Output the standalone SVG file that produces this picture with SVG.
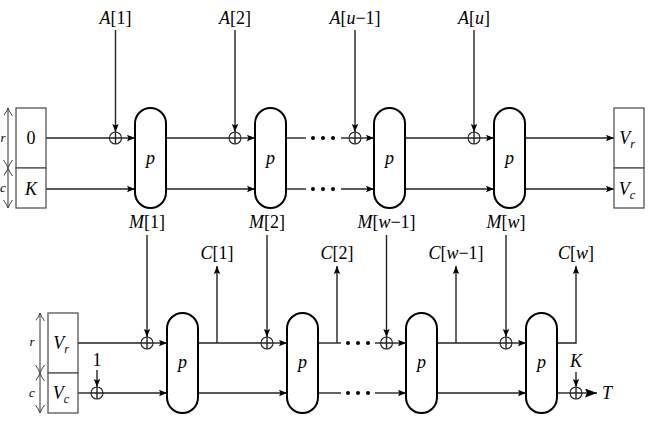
<svg xmlns="http://www.w3.org/2000/svg" width="648" height="434" viewBox="0 0 648 434">
<style>
.bg{fill:#fff}
.box{fill:#fff;stroke:#555;stroke-width:1.3}
.cap{fill:#fff;stroke:#000;stroke-width:2}
.ln{fill:none;stroke:#222;stroke-width:1.4}
.dim{fill:none;stroke:#555;stroke-width:1.2}
.x{fill:#fff;stroke:#222;stroke-width:1.1}
.t{font-family:"Liberation Serif","DejaVu Serif",serif;font-size:18px;fill:#000;text-anchor:middle}
.i{font-style:italic}
.s{font-size:12px;font-style:italic}
.sm{font-family:"Liberation Serif","DejaVu Serif",serif;font-size:13px;font-style:italic;fill:#000;text-anchor:middle}
.dot{fill:#000}
</style>
<defs>
<marker id="a" markerUnits="userSpaceOnUse" markerWidth="10" markerHeight="8" refX="8" refY="3.2" orient="auto">
<path d="M0,0 L8,3.2 L0,6.4 L1.5,3.2 z" fill="#000"/>
</marker>
<marker id="b" markerUnits="userSpaceOnUse" markerWidth="14" markerHeight="10" refX="12" refY="4.5" orient="auto">
<path d="M0,0 L12,4.5 L0,9 L2,4.5 z" fill="#000"/>
</marker>
<marker id="o" markerUnits="userSpaceOnUse" markerWidth="10" markerHeight="10" refX="8" refY="4.5" orient="auto-start-reverse">
<path d="M0,0 Q4,3 8,4.5 Q4,6 0,9" fill="none" stroke="#444" stroke-width="1"/>
</marker>
<g id="xor"><circle class="x" r="6"/><path class="ln" d="M-6,0H6M0,-6V6" stroke-width="1.1"/></g>
</defs>
<rect class="bg" width="648" height="434"/>

<!-- connectors -->
<g id="connectors">
<path class="ln" d="M46,138H109.5"/>
<path class="ln" d="M121.5,138H135" marker-end="url(#a)"/>
<path class="ln" d="M166,138H229"/>
<path class="ln" d="M241,138H255" marker-end="url(#a)"/>
<path class="ln" d="M286,138H306"/>
<path class="ln" d="M341,138H349"/>
<path class="ln" d="M361,138H374" marker-end="url(#a)"/>
<path class="ln" d="M405,138H468"/>
<path class="ln" d="M480,138H494" marker-end="url(#a)"/>
<path class="ln" d="M525,138H614" marker-end="url(#a)"/>
<path class="ln" d="M46,189H135" marker-end="url(#a)"/>
<path class="ln" d="M166,189H255" marker-end="url(#a)"/>
<path class="ln" d="M286,189H306"/>
<path class="ln" d="M341,189H374" marker-end="url(#a)"/>
<path class="ln" d="M405,189H494" marker-end="url(#a)"/>
<path class="ln" d="M525,189H614" marker-end="url(#a)"/>
<path class="ln" d="M115.5,30V132" marker-end="url(#a)"/>
<path class="ln" d="M235,30V132" marker-end="url(#a)"/>
<path class="ln" d="M355,30V132" marker-end="url(#a)"/>
<path class="ln" d="M474,30V132" marker-end="url(#a)"/>
<path class="ln" d="M147,235V337" marker-end="url(#a)"/>
<path class="ln" d="M267,235V337" marker-end="url(#a)"/>
<path class="ln" d="M386.5,235V337" marker-end="url(#a)"/>
<path class="ln" d="M506,235V337" marker-end="url(#a)"/>
<path class="ln" d="M78,343H141"/>
<path class="ln" d="M153,343H167" marker-end="url(#a)"/>
<path class="ln" d="M198,343H261"/>
<path class="ln" d="M273,343H287" marker-end="url(#a)"/>
<path class="ln" d="M318,343H341"/>
<path class="ln" d="M375,343H380.5"/>
<path class="ln" d="M392.5,343H406" marker-end="url(#a)"/>
<path class="ln" d="M437,343H500"/>
<path class="ln" d="M512,343H526" marker-end="url(#a)"/>
<path class="ln" d="M557,343H576V266" marker-end="url(#a)"/>
<path class="ln" d="M217,343V266" marker-end="url(#a)"/>
<path class="ln" d="M337,343V266" marker-end="url(#a)"/>
<path class="ln" d="M456,343V266" marker-end="url(#a)"/>
<path class="ln" d="M78,393H91"/>
<path class="ln" d="M103,393H167" marker-end="url(#a)"/>
<path class="ln" d="M198,393H287" marker-end="url(#a)"/>
<path class="ln" d="M318,393H341"/>
<path class="ln" d="M375,393H406" marker-end="url(#a)"/>
<path class="ln" d="M437,393H526" marker-end="url(#a)"/>
<path class="ln" d="M557,393H570"/>
<path class="ln" d="M582,393H597" marker-end="url(#b)"/>
<path class="ln" d="M97,370V387" marker-end="url(#a)"/>
<path class="ln" d="M576,372V387" marker-end="url(#a)"/>
</g>

<g id="dots">
<circle class="dot" cx="313" cy="138" r="2"/><circle class="dot" cx="323" cy="138" r="2"/><circle class="dot" cx="333" cy="138" r="2"/>
<circle class="dot" cx="313" cy="189" r="2"/><circle class="dot" cx="323" cy="189" r="2"/><circle class="dot" cx="333" cy="189" r="2"/>
<circle class="dot" cx="348" cy="343" r="2"/><circle class="dot" cx="358" cy="343" r="2"/><circle class="dot" cx="368" cy="343" r="2"/>
<circle class="dot" cx="348" cy="393" r="2"/><circle class="dot" cx="358" cy="393" r="2"/><circle class="dot" cx="368" cy="393" r="2"/>
</g>

<g id="xors">
<use href="#xor" x="115.5" y="138"/>
<use href="#xor" x="235" y="138"/>
<use href="#xor" x="355" y="138"/>
<use href="#xor" x="474" y="138"/>
<use href="#xor" x="147" y="343"/>
<use href="#xor" x="267" y="343"/>
<use href="#xor" x="386.5" y="343"/>
<use href="#xor" x="506" y="343"/>
<use href="#xor" x="97" y="393"/>
<use href="#xor" x="576" y="393"/>
</g>

<g id="init-top">
<rect class="box" x="16" y="108" width="30" height="60"/>
<rect class="box" x="16" y="168" width="30" height="40"/>
<text class="t" x="31" y="144">0</text>
<text class="t i" x="31" y="195">K</text>
<path class="dim" d="M8,108V168" marker-start="url(#o)" marker-end="url(#o)"/>
<path class="dim" d="M8,168V208" marker-start="url(#o)" marker-end="url(#o)"/>
<text class="sm" x="3" y="142">r</text>
<text class="sm" x="3" y="192">c</text>
</g>

<g id="final-top">
<rect class="box" x="614" y="108" width="30" height="60"/>
<rect class="box" x="614" y="168" width="30" height="40"/>
<text class="t i" x="627" y="144">V<tspan class="s" dy="4">r</tspan></text>
<text class="t i" x="627" y="195">V<tspan class="s" dy="4">c</tspan></text>
</g>

<g id="init-bottom">
<rect class="box" x="48" y="313" width="30" height="60"/>
<rect class="box" x="48" y="373" width="30" height="40"/>
<text class="t i" x="61" y="349">V<tspan class="s" dy="4">r</tspan></text>
<text class="t i" x="61" y="399">V<tspan class="s" dy="4">c</tspan></text>
<path class="dim" d="M40,313V373" marker-start="url(#o)" marker-end="url(#o)"/>
<path class="dim" d="M40,373V413" marker-start="url(#o)" marker-end="url(#o)"/>
<text class="sm" x="32" y="346">r</text>
<text class="sm" x="32" y="397">c</text>
</g>

<g id="p1"><rect class="cap" x="135" y="108" width="31" height="100" rx="15.5"/><text class="t i" x="150.5" y="164">p</text></g>
<g id="p2"><rect class="cap" x="255" y="108" width="31" height="100" rx="15.5"/><text class="t i" x="270.5" y="164">p</text></g>
<g id="p3"><rect class="cap" x="374" y="108" width="31" height="100" rx="15.5"/><text class="t i" x="389.5" y="164">p</text></g>
<g id="p4"><rect class="cap" x="494" y="108" width="31" height="100" rx="15.5"/><text class="t i" x="509.5" y="164">p</text></g>
<g id="p5"><rect class="cap" x="167" y="313" width="31" height="100" rx="15.5"/><text class="t i" x="182.5" y="368">p</text></g>
<g id="p6"><rect class="cap" x="287" y="313" width="31" height="100" rx="15.5"/><text class="t i" x="302.5" y="368">p</text></g>
<g id="p7"><rect class="cap" x="406" y="313" width="31" height="100" rx="15.5"/><text class="t i" x="421.5" y="368">p</text></g>
<g id="p8"><rect class="cap" x="526" y="313" width="31" height="100" rx="15.5"/><text class="t i" x="541.5" y="368">p</text></g>

<g id="labels">
<text class="t" x="115.5" y="24"><tspan class="i">A</tspan>[1]</text>
<text class="t" x="235" y="24"><tspan class="i">A</tspan>[2]</text>
<text class="t" x="355" y="24"><tspan class="i">A</tspan>[<tspan class="i">u</tspan>−1]</text>
<text class="t" x="474" y="24"><tspan class="i">A</tspan>[<tspan class="i">u</tspan>]</text>
<text class="t" x="147" y="228"><tspan class="i">M</tspan>[1]</text>
<text class="t" x="267" y="228"><tspan class="i">M</tspan>[2]</text>
<text class="t" x="386.5" y="228"><tspan class="i">M</tspan>[<tspan class="i">w</tspan>−1]</text>
<text class="t" x="506" y="228"><tspan class="i">M</tspan>[<tspan class="i">w</tspan>]</text>
<text class="t" x="217" y="259"><tspan class="i">C</tspan>[1]</text>
<text class="t" x="337" y="259"><tspan class="i">C</tspan>[2]</text>
<text class="t" x="456" y="259"><tspan class="i">C</tspan>[<tspan class="i">w</tspan>−1]</text>
<text class="t" x="576" y="259"><tspan class="i">C</tspan>[<tspan class="i">w</tspan>]</text>
<text class="t" x="97" y="366">1</text>
<text class="t i" x="576" y="367">K</text>
<text class="t i" x="607" y="399">T</text>
</g>
</svg>
